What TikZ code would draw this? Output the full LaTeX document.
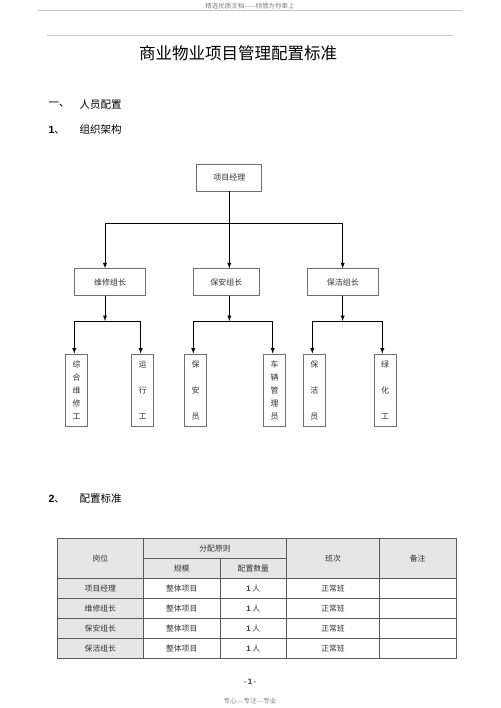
\documentclass[tikz,border=0pt]{standalone}
\usepackage{fontspec}
\setmainfont{Noto Sans CJK SC}
\newfontfamily\numfont{Liberation Sans}
\usepackage{xcolor}
\usetikzlibrary{arrows}
\definecolor{rulegray}{HTML}{C8C8C8}
\definecolor{boxgray}{HTML}{707070}
\definecolor{cellgray}{HTML}{E6E6E6}
\definecolor{gridgray}{HTML}{5A5A5A}
\definecolor{textgray}{HTML}{333333}

\begin{document}
\begin{tikzpicture}[x=1pt,y=-1pt,>=latex,
  orgbox/.style={draw=boxgray,line width=0.8pt,inner sep=0pt,text=textgray,font=\fontsize{8}{10}\selectfont},
  leafbox/.style={orgbox,minimum width=22pt,minimum height=72pt,align=center,font=\fontsize{8}{13}\selectfont},
  link/.style={line width=0.9pt},
  heading/.style={anchor=west,font=\fontsize{10.5}{12}\selectfont},
  cell/.style={text=textgray,font=\fontsize{7.8}{9}\selectfont}]
\useasboundingbox (0,0) rectangle (500,708);

% page head
\node[text=gray,font=\fontsize{6.5}{7}\selectfont] (hdr) at (250,6) {精选优质文档-{}-{}-{}-{}-倾情为你奉上};
\draw[rulegray,line width=1pt] (37.5,10.5) -- (462.5,10.5);
\draw[rulegray,line width=0.8pt] (47,35) -- (453,35);
\node[font=\fontsize{16.5}{18}\selectfont] (title) at (238,53) {商业物业项目管理配置标准};

\node[heading] (h1) at (45,105) {一、};
\node[heading] (h1t) at (76,105) {人员配置};
\node[heading] (h2) at (45,130) {{\numfont\bfseries 1}、};
\node[heading] (h2t) at (76,130) {组织架构};

% organisation chart
\node[orgbox,minimum width=65pt,minimum height=27pt] (pm) at (229.3,177.6) {项目经理};

\node[orgbox,minimum width=71pt,minimum height=26.5pt] (wx) at (110,282) {维修组长};
\node[orgbox,minimum width=66pt,minimum height=26.5pt] (ba) at (226.3,282) {保安组长};
\node[orgbox,minimum width=71pt,minimum height=26.5pt] (bj) at (342.8,282) {保洁组长};

\node[leafbox] (zhwx) at (76.7,390) {综\\合\\维\\修\\工};
\node[leafbox] (yxg) at (142.5,390) {运\\[13pt]行\\[13pt]工};
\node[leafbox] (bay) at (195.5,390) {保\\[13pt]安\\[13pt]员};
\node[leafbox] (clgl) at (274.5,390) {车\\辆\\管\\理\\员};
\node[leafbox] (bjy) at (314.3,390) {保\\[13pt]洁\\[13pt]员};
\node[leafbox] (lhg) at (385,390) {绿\\[13pt]化\\[13pt]工};

\coordinate (top) at (229.3,223);
\coordinate (topl) at (105,223);
\coordinate (topr) at (342.7,223);
\draw[link] (pm.south) -- (top);
\draw[link] (topl) -- (topr);
\draw[link,->] (topl) -- (topl |- wx.north);
\draw[link,->] (top) -- (top |- ba.north);
\draw[link,->] (topr) -- (topr |- bj.north);

% maintenance branch
\coordinate (wxj) at (105,321);
\coordinate (wxl) at (74.3,321);
\coordinate (wxr) at (140.7,321);
\draw[link,->] (wxj |- wx.south) -- (wxj);
\draw[link] (wxl) -- (wxr);
\draw[link,->] (wxl) -- (wxl |- zhwx.north);
\draw[link,->] (wxr) -- (wxr |- yxg.north);

% security branch
\coordinate (baj) at (229.3,321);
\coordinate (bal) at (193.3,321);
\coordinate (bar) at (272.7,321);
\draw[link,->] (baj |- ba.south) -- (baj);
\draw[link] (bal) -- (bar);
\draw[link,->] (bal) -- (bal |- bay.north);
\draw[link,->] (bar) -- (bar |- clgl.north);

% cleaning branch
\coordinate (bjj) at (342.7,321);
\coordinate (bjl) at (312.3,321);
\coordinate (bjr) at (382.3,321);
\draw[link,->] (bjj |- bj.south) -- (bjj);
\draw[link] (bjl) -- (bjr);
\draw[link,->] (bjl) -- (bjl |- bjy.north);
\draw[link,->] (bjr) -- (bjr |- lhg.north);

% staffing table
\node[heading] (h3) at (45,499) {{\numfont\bfseries 2}、};
\node[heading] (h3t) at (76,499) {配置标准};

\fill[cellgray] (57.3,538.3) rectangle (456,578.3);
\fill[cellgray] (57.3,578.3) rectangle (143.3,658.3);
\foreach \y in {578.3,598.3,618.3,638.3}
  \draw[gridgray,line width=0.7pt] (57.3,\y) -- (456,\y);
\draw[gridgray,line width=0.7pt] (143.3,558.3) -- (286.7,558.3);
\draw[gridgray,line width=0.7pt] (220,558.3) -- (220,658.3);
\foreach \x in {143.3,286.7,379.3}
  \draw[gridgray,line width=0.7pt] (\x,538.3) -- (\x,658.3);
\draw[gridgray,line width=1pt] (57.3,538.3) rectangle (456,658.3);

\node[cell] (c-gw) at (100.3,558.3) {岗位};
\node[cell] (c-fp) at (215,548.3) {分配原则};
\node[cell] (c-gm) at (181.7,568.3) {规模};
\node[cell] (c-sl) at (253.3,568.3) {配置数量};
\node[cell] (c-bc) at (333,558.3) {班次};
\node[cell] (c-bz) at (417.7,558.3) {备注};
\foreach \name [count=\i] in {项目经理,维修组长,保安组长,保洁组长} {
  \node[cell] (r\i-a) at (100.3,568.3+20*\i) {\name};
  \node[cell] (r\i-b) at (181.7,568.3+20*\i) {整体项目};
  \node[cell] (r\i-c) at (253.3,568.3+20*\i) {{\numfont\bfseries 1} 人};
  \node[cell] (r\i-d) at (333,568.3+20*\i) {正常班};
}

% page foot
\node[text=textgray,font=\numfont\fontsize{8}{9}\selectfont] (pg) at (250,682) {-\,\textbf{1}\,-};
\node[text=gray,font=\fontsize{6.5}{7}\selectfont] (ftr) at (250,701.5) {专心-{}-{}-专注-{}-{}-专业};
\end{tikzpicture}
\end{document}
